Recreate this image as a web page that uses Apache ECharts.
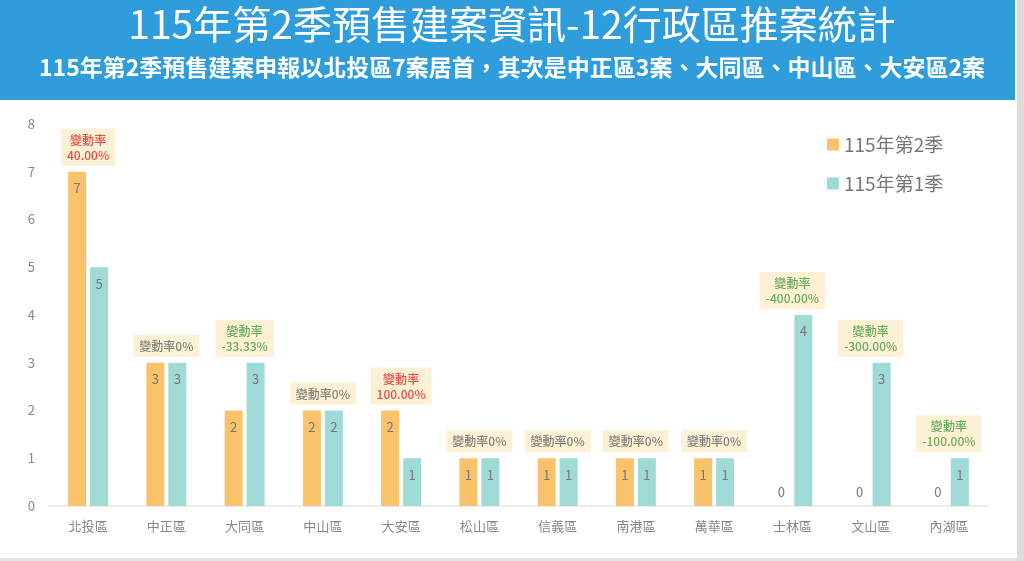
<!DOCTYPE html>
<html lang="zh-TW">
<head>
<meta charset="utf-8">
<title>115年第2季預售建案資訊-12行政區推案統計</title>
<script src="https://cdn.jsdelivr.net/npm/echarts@6/dist/echarts.min.js"></script>
<style>
  html, body { margin: 0; padding: 0; background: #fff; }
  #chart { width: 1024px; height: 561px; }
</style>
</head>
<body>
<div id="chart"></div>
<script>
// 資料
const districts = ['北投區', '中正區', '大同區', '中山區', '大安區', '松山區', '信義區', '南港區', '萬華區', '士林區', '文山區', '內湖區'];
const q2Values = [7, 3, 2, 2, 2, 1, 1, 1, 1, 0, 0, 0];
const q1Values = [5, 3, 3, 2, 1, 1, 1, 1, 1, 4, 3, 1];
const changeRates = ['40.00%', '0%', '-33.33%', '0%', '100.00%', '0%', '0%', '0%', '0%', '-400.00%', '-300.00%', '-100.00%'];
const yTicks = [0, 1, 2, 3, 4, 5, 6, 7, 8];

const titleText = '115年第2季預售建案資訊-12行政區推案統計';
const subText = '115年第2季預售建案申報以北投區7案居首，其次是中正區3案、大同區、中山區、大安區2案';

const FONT = '"Noto Sans CJK TC", "Noto Sans", sans-serif';
const ORANGE = '#FBC26C';
const TEAL = '#9FDAD6';

function barData(values) {
  return values.map(v => v === 0
    ? { value: v, label: { position: 'top', distance: 7 } }
    : v);
}

// 變動率標籤：放在每組較高的柱上方
const rateData = districts.map((d, i) => {
  const rate = changeRates[i];
  let color = '#666';
  let text = '變動率' + rate;
  if (rate !== '0%') {
    color = rate.charAt(0) === '-' ? '#3E9B3E' : '#E3221F';
    text = '變動率\n' + rate;
  }
  return {
    value: Math.max(q2Values[i], q1Values[i]),
    label: { formatter: text, color: color }
  };
});

const chart = echarts.init(document.getElementById('chart'));
chart.setOption({
  backgroundColor: '#fff',
  animation: false,
  textStyle: { fontFamily: FONT },
  graphic: [
    { type: 'rect', shape: { x: 0, y: 0, width: 1015, height: 100 }, style: { fill: '#2F9CDC' }, z: 0 },
    { type: 'rect', shape: { x: 1017, y: 0, width: 7, height: 561 }, style: { fill: '#DCDCDC' }, z: 0 },
    { type: 'rect', shape: { x: 0, y: 558, width: 1017, height: 3 }, style: { fill: '#E4E4E4' }, z: 0 },
    {
      type: 'text', left: 'center', top: 5, z: 10,
      style: { text: titleText, fill: '#fff', font: 'normal 39px ' + FONT }
    },
    {
      type: 'text', left: 'center', top: 56, z: 10,
      style: { text: subText, fill: '#fff', font: 'bold 23px ' + FONT }
    }
  ],
  legend: {
    orient: 'vertical',
    left: 822,
    top: 130,
    itemWidth: 12,
    itemHeight: 12,
    itemGap: 20,
    icon: 'rect',
    textStyle: { fontSize: 19, color: '#777', fontFamily: FONT },
    data: ['115年第2季', '115年第1季']
  },
  grid: { left: 49, right: 36, top: 124, bottom: 55 },
  xAxis: {
    type: 'category',
    data: districts,
    axisLine: { lineStyle: { color: '#E6E6E6', width: 1.5 } },
    axisTick: { show: false },
    axisLabel: { color: '#888', fontSize: 13, margin: 14, fontFamily: FONT }
  },
  yAxis: {
    type: 'value',
    min: yTicks[0],
    max: yTicks[yTicks.length - 1],
    interval: 1,
    splitLine: { show: false },
    axisLine: { show: false },
    axisTick: { show: false },
    axisLabel: { color: '#888', fontSize: 13, margin: 14, fontFamily: FONT }
  },
  series: [
    {
      name: '115年第2季',
      type: 'bar',
      data: barData(q2Values),
      barWidth: 18,
      barGap: '22%',
      itemStyle: { color: ORANGE },
      label: { show: true, position: 'insideTop', distance: 10, color: '#777', fontSize: 13 }
    },
    {
      name: '115年第1季',
      type: 'bar',
      data: barData(q1Values),
      barWidth: 18,
      itemStyle: { color: TEAL },
      label: { show: true, position: 'insideTop', distance: 10, color: '#777', fontSize: 13 }
    },
    {
      name: '變動率',
      type: 'scatter',
      data: rateData,
      symbolSize: 0,
      silent: true,
      z: 5,
      label: {
        show: true,
        position: 'top',
        distance: 6,
        backgroundColor: '#FCEDCA',
        padding: [4, 6, 3, 6],
        fontSize: 12,
        fontWeight: 500,
        lineHeight: 15,
        align: 'center',
        fontFamily: FONT
      }
    }
  ]
});
</script>
</body>
</html>
